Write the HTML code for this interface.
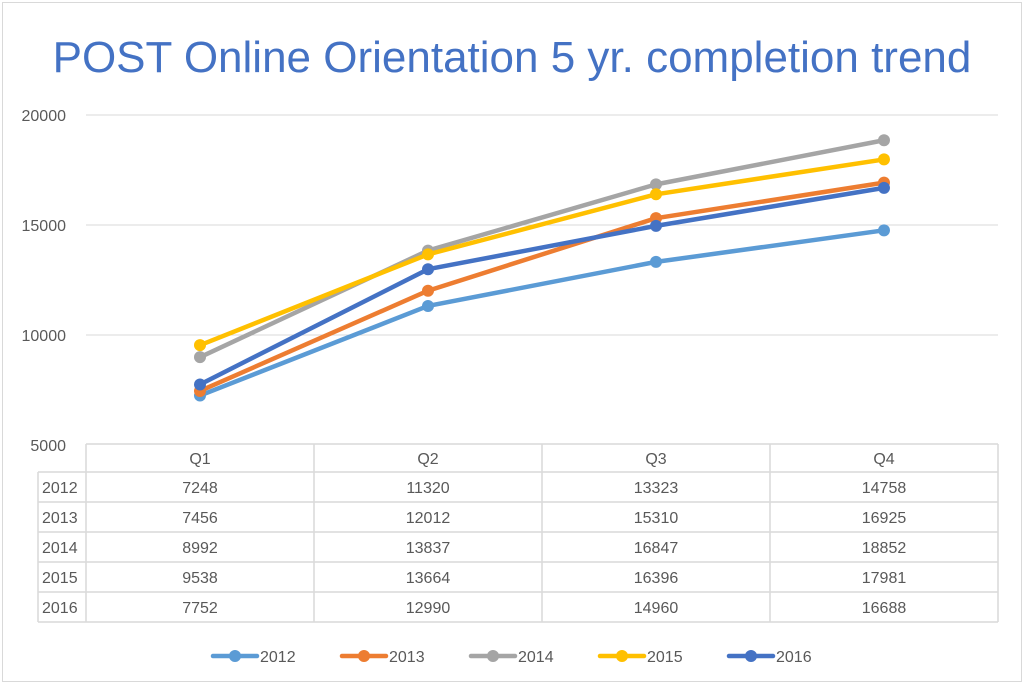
<!DOCTYPE html>
<html><head><meta charset="utf-8"><style>
body{margin:0;background:#fff;}
svg text{font-family:"Liberation Sans",sans-serif;}
</style></head><body>
<svg width="1024" height="685" id="c" xmlns="http://www.w3.org/2000/svg">
<rect x="2.5" y="2.5" width="1019" height="679" fill="#fff" stroke="#d9d9d9"/>
<text x="512" y="72" text-anchor="middle" font-size="44" fill="#4472C4">POST Online Orientation 5 yr. completion trend</text>
<g id="grid"></g><g id="table"></g><g id="lines"></g><g id="legend"></g>
</svg>
<script>
const categories=["Q1","Q2","Q3","Q4"];
const seriesNames=["2012","2013","2014","2015","2016"];
const colors=["#5B9BD5","#ED7D31","#A5A5A5","#FFC000","#4472C4"];
const s2012=[7248,11320,13323,14758];
const s2013=[7456,12012,15310,16925];
const s2014=[8992,13837,16847,18852];
const s2015=[9538,13664,16396,17981];
const s2016=[7752,12990,14960,16688];
const yTicks=[5000,10000,15000,20000];
const series=[s2012,s2013,s2014,s2015,s2016];
const NS="http://www.w3.org/2000/svg";
const x0=86,x1=998,yMin=5000,yMax=20000,yTop=115,yBot=445;
const colW=(x1-x0)/categories.length;
const X=i=>x0+colW*(i+0.5);
const Y=v=>yBot-(v-yMin)/(yMax-yMin)*(yBot-yTop);
function mk(t,a,p){const e=document.createElementNS(NS,t);for(const k in a)e.setAttribute(k,a[k]);p.appendChild(e);return e;}
const grid=document.getElementById('grid');
yTicks.forEach(t=>{
 if(t>yMin){const l=mk('line',{x1:x0,x2:x1,y1:Y(t),y2:Y(t),stroke:'#d9d9d9'},grid);
 
 }
 const tx=mk('text',{x:66,y:Y(t)+6,'text-anchor':'end','font-size':16,fill:'#595959'},grid);tx.textContent=t;
 
 
});
const tb=document.getElementById('table');
const hTop=444,hBot=472,rowH=30,lblX=38;
const tbBot=hBot+rowH*seriesNames.length;
const st={stroke:'#d9d9d9','stroke-width':1.5};
mk('line',Object.assign({x1:x0,x2:x1,y1:hTop,y2:hTop},st),tb);
for(let r=0;r<=seriesNames.length;r++)mk('line',Object.assign({x1:lblX,x2:x1,y1:hBot+r*rowH,y2:hBot+r*rowH},st),tb);
mk('line',Object.assign({x1:lblX,x2:lblX,y1:hBot,y2:tbBot},st),tb);
for(let c=0;c<=categories.length;c++)mk('line',Object.assign({x1:x0+c*colW,x2:x0+c*colW,y1:hTop,y2:tbBot},st),tb);
categories.forEach((c,i)=>{const t=mk('text',{x:X(i),y:hBot-8,'text-anchor':'middle','font-size':16,fill:'#595959'},tb);t.textContent=c;
 
 });
seriesNames.forEach((n,r)=>{
 const yy=hBot+r*rowH+21;
 const t=mk('text',{x:42,y:yy,'font-size':16,fill:'#595959'},tb);t.textContent=n;
 
 
 series[r].forEach((v,i)=>{const c=mk('text',{x:X(i),y:yy,'text-anchor':'middle','font-size':16,fill:'#595959'},tb);c.textContent=v;
  
  });
});
const lg=document.getElementById('lines');
series.forEach((s,k)=>{
 const g=mk('g',{},lg);
 
 
 mk('polyline',{points:s.map((v,i)=>X(i)+','+Y(v)).join(' '),fill:'none',stroke:colors[k],'stroke-width':4.5,'stroke-linejoin':'round','stroke-linecap':'round'},g);
 s.forEach((v,i)=>{const c=mk('circle',{cx:X(i),cy:Y(v),r:6,fill:colors[k]},g);
  
  });
});
const leg=document.getElementById('legend');
seriesNames.forEach((n,k)=>{
 const lx=213+k*129,ly=656;
 const g=mk('g',{},leg);
 
 
 mk('line',{x1:lx,x2:lx+44,y1:ly,y2:ly,stroke:colors[k],'stroke-width':4.5,'stroke-linecap':'round'},g);
 mk('circle',{cx:lx+22,cy:ly,r:6,fill:colors[k]},g);
 const t=mk('text',{x:lx+47,y:ly+6,'font-size':16,fill:'#595959'},g);t.textContent=n;
});
</script>
</body></html>
